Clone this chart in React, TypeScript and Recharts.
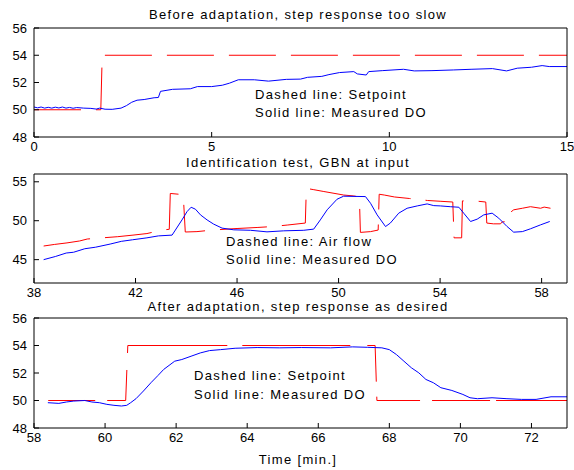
import React from 'react'
import { LineChart, Line, XAxis, YAxis } from 'recharts'

type Pt = [number, number]

// --- panel 1: before adaptation (time [min], DO)
const beforeSetpoint: Pt[] = [[0, 50], [1.88, 50], [1.92, 54], [15, 54]]
const beforeMeasured: Pt[] = [
  [0, 50.2], [0.1, 50.14], [0.2, 50.2], [0.3, 50.12], [0.4, 50.18], [0.5, 50.12], [0.6, 50.19],
  [0.7, 50.13], [0.8, 50.2], [0.9, 50.12], [1.0, 50.17], [1.1, 50.11], [1.2, 50.16], [1.4, 50.12],
  [1.6, 50.1], [1.75, 50.05], [1.85, 50.12], [2.0, 50.04], [2.2, 50.03], [2.45, 50.12], [2.6, 50.3],
  [2.75, 50.55], [2.9, 50.7], [3.1, 50.75], [3.38, 50.88], [3.5, 50.9], [3.56, 51.35], [3.9, 51.5],
  [4.4, 51.54], [4.6, 51.7], [5.0, 51.7], [5.3, 51.8], [5.5, 51.95], [5.75, 52.2], [6.2, 52.2],
  [6.6, 52.1], [7.1, 52.23], [7.5, 52.25], [7.7, 52.38], [8.1, 52.45], [8.3, 52.58], [8.6, 52.73],
  [9.0, 52.8], [9.1, 52.63], [9.35, 52.55], [9.42, 52.8], [9.8, 52.87], [10.4, 52.97], [10.7, 52.85],
  [11.2, 52.87], [11.8, 52.92], [12.3, 52.97], [12.9, 53.02], [13.3, 52.85], [13.6, 53.05],
  [14.0, 53.12], [14.3, 53.24], [14.5, 53.17], [15, 53.17],
]

// --- panel 2: identification test
const identAirFlow: Pt[] = [
  [38.38, 46.75], [38.8, 46.95], [39.3, 47.15], [39.8, 47.4], [40.1, 47.65], [40.7, 47.8],
  [41.3, 47.95], [41.9, 48.15], [42.45, 48.35], [43.05, 48.8], [43.33, 48.9], [43.37, 53.5],
  [43.88, 53.35], [43.96, 48.55], [44.42, 48.6], [45.02, 48.8], [46.0, 49.0], [46.79, 49.13],
  [47.38, 49.25], [48.0, 49.45], [48.69, 49.7], [48.73, 54.15], [49.0, 54.0], [49.42, 53.75],
  [50.2, 53.3], [50.6, 53.18], [50.82, 53.05], [50.86, 48.5], [51.26, 48.6], [51.56, 48.8],
  [51.6, 53.4], [51.8, 53.3], [52.2, 53.05], [52.8, 52.85], [53.5, 52.6], [54.0, 52.5],
  [54.5, 52.4], [54.55, 47.8], [54.85, 47.8], [54.88, 52.55], [55.5, 52.5], [55.8, 52.4],
  [55.84, 49.7], [56.1, 49.6], [56.38, 49.6], [56.45, 49.85], [56.74, 49.9], [56.78, 51.1],
  [56.9, 51.4], [57.24, 51.6], [57.56, 51.8], [57.96, 51.6], [58.1, 51.75], [58.35, 51.6],
]
const identMeasured: Pt[] = [
  [38.38, 45.0], [38.84, 45.4], [39.27, 45.85], [39.56, 45.95], [40.0, 46.4], [40.43, 46.6],
  [41.0, 47.0], [41.44, 47.35], [41.88, 47.55], [42.45, 47.8], [42.9, 48.05], [43.44, 48.15],
  [43.57, 48.8], [43.83, 50.1], [44.03, 51.17], [44.19, 51.73], [44.36, 51.48], [44.56, 50.75],
  [44.82, 50.1], [45.08, 49.56], [45.41, 49.05], [45.87, 48.83], [46.53, 48.77], [47.18, 48.57],
  [47.84, 48.7], [48.63, 48.77], [49.02, 48.92], [49.28, 50.1], [49.55, 51.4], [49.94, 52.76],
  [50.2, 53.15], [51.06, 53.1], [51.26, 52.24], [51.52, 50.75], [51.85, 49.25], [52.04, 49.7],
  [52.37, 50.97], [52.7, 51.6], [53.1, 51.9], [53.49, 52.16], [53.75, 51.94], [54.01, 51.9],
  [54.4, 51.8], [54.74, 51.73], [54.93, 50.97], [55.2, 49.9], [55.46, 50.2], [55.72, 50.75],
  [56.05, 50.97], [56.31, 50.33], [56.64, 49.25], [56.9, 48.53], [57.24, 48.6], [57.56, 48.96],
  [57.96, 49.47], [58.32, 49.9],
]

// --- panel 3: after adaptation
const afterSetpoint: Pt[] = [[58.4, 50], [60.58, 50], [60.64, 54], [67.6, 54], [67.65, 50], [73, 50]]
const afterMeasured: Pt[] = [
  [58.39, 49.84], [58.7, 49.79], [58.91, 49.89], [59.12, 49.96], [59.43, 50.0], [59.63, 49.89],
  [59.84, 49.84], [60.05, 49.72], [60.25, 49.65], [60.46, 49.6], [60.61, 49.65], [60.72, 49.84],
  [60.87, 50.13], [61.08, 50.69], [61.29, 51.29], [61.49, 51.82], [61.65, 52.26], [61.8, 52.55],
  [61.96, 52.86], [62.16, 52.98], [62.42, 53.22], [62.68, 53.46], [62.94, 53.63], [63.25, 53.7],
  [63.66, 53.8], [64.28, 53.85], [64.9, 53.83], [65.52, 53.85], [66.35, 53.83], [66.97, 53.9],
  [67.38, 53.87], [67.79, 53.83], [68.0, 53.7], [68.2, 53.34], [68.41, 52.86], [68.62, 52.38],
  [68.83, 52.01], [69.03, 51.53], [69.24, 51.29], [69.45, 50.93], [69.76, 50.73], [70.07, 50.44],
  [70.27, 50.2], [70.48, 50.13], [70.89, 50.2], [71.31, 50.13], [71.72, 50.08], [72.13, 50.08],
  [72.55, 50.27], [73.06, 50.27],
]

const FONT = 'Arial, "Liberation Sans", Helvetica, sans-serif'
const tickStyle = { fontSize: 13, fill: '#000', fontFamily: FONT }

const rows = (pts: Pt[]) => pts.map(([t, v]) => ({ t, v }))

interface PanelProps {
  top: number
  height: number
  marginTop: number
  xDomain: [number, number]
  xTicks: number[]
  yDomain: [number, number]
  yTicks: number[]
  red: Pt[]
  blue: Pt[]
  dash?: string
}

function Panel({ top, height, marginTop, xDomain, xTicks, yDomain, yTicks, red, blue, dash = '47 15' }: PanelProps) {
  return (
    <div style={{ position: 'absolute', left: 0, top }}>
      <LineChart width={574} height={height} margin={{ top: marginTop, right: 6, bottom: 0, left: 4 }}>
        <XAxis
          xAxisId="b" type="number" dataKey="t" domain={xDomain} ticks={xTicks} allowDataOverflow
          height={23} tickSize={-5} tickMargin={10} tick={tickStyle}
          axisLine={{ stroke: '#000' }} tickLine={{ stroke: '#000' }} interval={0}
        />
        <XAxis
          xAxisId="t" orientation="top" type="number" dataKey="t" domain={xDomain} ticks={xTicks}
          allowDataOverflow height={1} tickSize={-5} tick={false}
          axisLine={{ stroke: '#000' }} tickLine={{ stroke: '#000' }} interval={0}
        />
        <YAxis
          yAxisId="l" type="number" domain={yDomain} ticks={yTicks} allowDataOverflow
          width={30} tickSize={-5} tickMargin={12} tick={tickStyle}
          axisLine={{ stroke: '#000' }} tickLine={{ stroke: '#000' }} interval={0}
        />
        <YAxis
          yAxisId="r" orientation="right" type="number" domain={yDomain} ticks={yTicks} allowDataOverflow
          width={1} tickSize={-5} tick={false}
          axisLine={{ stroke: '#000' }} tickLine={{ stroke: '#000' }} interval={0}
        />
        <Line
          xAxisId="b" yAxisId="l" data={rows(red)} dataKey="v" type="linear" stroke="#ff0000"
          strokeWidth={1} strokeDasharray={dash} dot={false} isAnimationActive={false}
        />
        <Line
          xAxisId="b" yAxisId="l" data={rows(blue)} dataKey="v" type="linear" stroke="#0000ff"
          strokeWidth={1} dot={false} isAnimationActive={false}
        />
      </LineChart>
    </div>
  )
}

const textStyle: React.CSSProperties = {
  position: 'absolute', fontFamily: FONT, fontSize: 13, letterSpacing: 1.35,
  lineHeight: '16px', color: '#000', whiteSpace: 'nowrap',
}

function Label({ left, top, children }: { left: number; top: number; children: React.ReactNode }) {
  return <div style={{ ...textStyle, left, top }}>{children}</div>
}

function Title({ top, children }: { top: number; children: React.ReactNode }) {
  return (
    <div style={{ ...textStyle, lineHeight: '12px', left: 0, width: 596, textAlign: 'center', top }}>
      {children}
    </div>
  )
}

export default function App() {
  return (
    <div style={{ position: 'absolute', left: 0, top: 0, width: 574, height: 470, background: '#fff' }}>
      <Panel top={0} height={160} marginTop={27} xDomain={[0, 15]} xTicks={[0, 5, 10, 15]}
        yDomain={[48, 56]} yTicks={[48, 50, 52, 54, 56]} red={beforeSetpoint} blue={beforeMeasured} />
      <Panel top={150} height={156} marginTop={23} xDomain={[38, 59]} xTicks={[38, 42, 46, 50, 54, 58]}
        yDomain={[42, 56]} yTicks={[45, 50, 55]} red={identAirFlow} blue={identMeasured} />
      <Panel top={300} height={151} marginTop={17} xDomain={[58, 73]} xTicks={[58, 60, 62, 64, 66, 68, 70, 72]}
        yDomain={[48, 56]} yTicks={[48, 50, 52, 54, 56]} red={afterSetpoint} blue={afterMeasured}
        dash="47 12 49 17 107 15 108 17 44 15 47 12 58 6 80 10" />

      <Title top={9}>Before adaptation, step response too slow</Title>
      <Title top={157}>Identification test, GBN at input</Title>
      <Title top={301}>After adaptation, step response as desired</Title>
      <Title top={454}>Time [min.]</Title>

      <Label left={255} top={87}>Dashed line: Setpoint</Label>
      <Label left={255} top={105}>Solid line: Measured DO</Label>
      <Label left={226} top={234}>Dashed line: Air flow</Label>
      <Label left={226} top={252}>Solid line: Measured DO</Label>
      <Label left={194} top={368}>Dashed line: Setpoint</Label>
      <Label left={194} top={387}>Solid line: Measured DO</Label>
    </div>
  )
}
